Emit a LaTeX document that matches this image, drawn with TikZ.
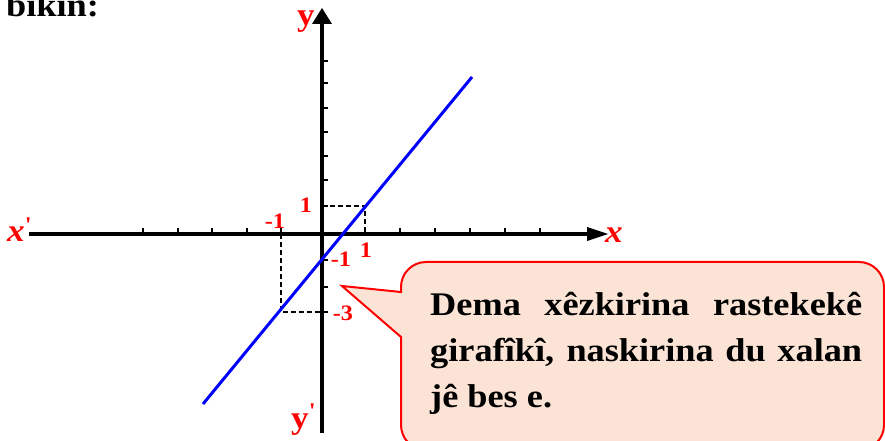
\documentclass[tikz,border=0pt]{standalone}
\usepackage{fontspec}
\setmainfont{Liberation Serif}[FakeStretch=1.1]
\usetikzlibrary{arrows.meta}
\definecolor{callfill}{RGB}{251,228,214}

\begin{document}
\begin{tikzpicture}[x=1pt,y=1pt,
  axis/.style={line width=4.5pt},
  tickmark/.style={line width=2pt},
  guide/.style={dash pattern=on 5pt off 3pt, line width=1.8pt},
  ticklbl/.style={text=red, inner sep=0pt, font=\fontsize{22}{22}\selectfont\bfseries},
  axislbl/.style={text=red, inner sep=0pt, font=\fontsize{32}{32}\selectfont\bfseries}]
  \useasboundingbox (-322,-207) rectangle (563,234);
  % heading, cut at the top
  \node[anchor=base west, inner sep=0pt, font=\fontsize{33}{33}\selectfont\bfseries] (head) at (-316,217) {bikin:};
  % axes
  \coordinate (xl) at (-293,0); \coordinate (xr) at (286,0);
  \coordinate (yb) at (0,-199); \coordinate (yt) at (0,226);
  \draw[axis, -{Triangle[length=21pt,width=14pt,line width=0pt]}] (xl) -- (xr);
  \draw[axis, -{Triangle[length=16pt,width=20pt,line width=0pt]}] (yb) -- (yt);
  \foreach \x in {-179,-144,-110,-75,-41,43,78,113,148,183,218}
    \draw[tickmark] (\x,0) -- (\x,6);
  \foreach \y in {173,151,126,102,78,54,28,-26,-53,-78}
    \draw[tickmark] (0,\y) -- (6,\y);
  % guides to the two points
  \coordinate (P) at (43,28); \coordinate (Px) at (43,0); \coordinate (Py) at (0,28);
  \coordinate (Q) at (-41,-78); \coordinate (Qx) at (-41,0); \coordinate (Qy) at (0,-78);
  \draw[guide] (Py) -- (P) -- (Px);
  \draw[guide] (Qx) -- (Q) -- (Qy);
  % the line
  \coordinate (ls) at (-119,-170); \coordinate (le) at (150,157);
  \draw[blue, line width=3pt] (ls) -- (le);
  % labels
  \node[axislbl, anchor=base west] (xneg) at (-315,-8) {\textit{x}\textsuperscript{\textquotesingle}};
  \node[axislbl, anchor=base] (xpos) at (292,-9) {\textit{x}};
  \node[axislbl, anchor=base] (ypos) at (-16,208) {y};
  \node[axislbl, anchor=base west] (yneg) at (-31,-194) {y\textsuperscript{\textquotesingle}};
  \node[ticklbl] (ly1) at (-16,29) {1};
  \node[ticklbl] (lxm1) at (-47,13) {-1};
  \node[ticklbl] (lx1) at (44,-16) {1};
  \node[ticklbl] (lym1) at (19,-25) {-1};
  \node[ticklbl] (lym3) at (21,-79) {-3};
  % callout
  \filldraw[draw=red, fill=callfill, line width=2pt]
    (20,-52) -- (79,-58) -- (79,-53) arc[start angle=180, end angle=90, radius=25]
    -- (537,-28) arc[start angle=90, end angle=0, radius=25]
    -- (562,-191) arc[start angle=0, end angle=-90, radius=25]
    -- (104,-216) arc[start angle=270, end angle=180, radius=25]
    -- (79,-103) -- cycle;
  \node[anchor=north west, inner sep=0pt, text width=432pt, align=justify,
    font=\fontsize{33}{46}\selectfont\bfseries] (note) at (108,-58)
    {Dema xêzkirina rastekekê\linebreak girafîkî, naskirina du xalan\linebreak jê bes e.};
\end{tikzpicture}
\end{document}
